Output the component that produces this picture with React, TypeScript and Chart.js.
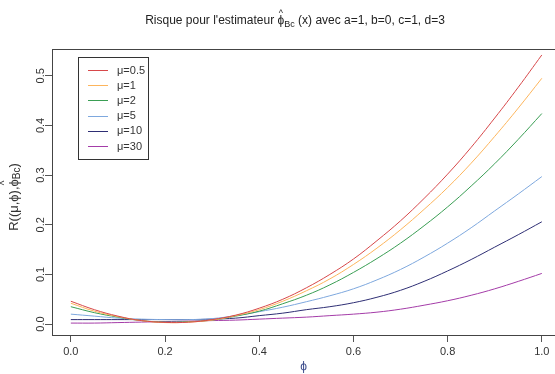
import React, { useEffect, useRef } from 'react';
import { Chart, registerables } from 'chart.js';

Chart.register(...registerables);

// phi grid (x values)
const phi = [0, 0.05, 0.1, 0.15, 0.2, 0.25, 0.3, 0.35, 0.4, 0.45, 0.5, 0.55, 0.6, 0.65, 0.7, 0.75, 0.8, 0.85, 0.9, 0.95, 1.0];

// Risk curves, one per mu
const riskMu05 = [0.046, 0.029, 0.016, 0.007, 0.0034, 0.0038, 0.009, 0.018, 0.032, 0.050, 0.073, 0.100, 0.131, 0.168, 0.208, 0.253, 0.302, 0.356, 0.415, 0.477, 0.542];
const riskMu1 = [0.042, 0.026, 0.015, 0.007, 0.003, 0.004, 0.008, 0.017, 0.029, 0.046, 0.067, 0.091, 0.120, 0.153, 0.190, 0.231, 0.275, 0.324, 0.378, 0.435, 0.495];
const riskMu2 = [0.035, 0.023, 0.014, 0.007, 0.004, 0.005, 0.008, 0.016, 0.026, 0.041, 0.058, 0.079, 0.104, 0.132, 0.163, 0.198, 0.236, 0.278, 0.323, 0.372, 0.424];
const riskMu5 = [0.020, 0.016, 0.012, 0.010, 0.009, 0.009, 0.011, 0.017, 0.025, 0.034, 0.045, 0.057, 0.071, 0.089, 0.110, 0.135, 0.163, 0.194, 0.228, 0.262, 0.297];
const riskMu10 = [0.009, 0.009, 0.009, 0.009, 0.009, 0.009, 0.010, 0.012, 0.017, 0.022, 0.029, 0.035, 0.043, 0.054, 0.068, 0.086, 0.107, 0.130, 0.155, 0.180, 0.206];
const riskMu30 = [0.002, 0.002, 0.003, 0.004, 0.005, 0.006, 0.007, 0.008, 0.010, 0.012, 0.014, 0.017, 0.020, 0.024, 0.030, 0.038, 0.047, 0.058, 0.071, 0.086, 0.102];

const seriesLabels = ['μ=0.5', 'μ=1', 'μ=2', 'μ=5', 'μ=10', 'μ=30'];
const seriesValues = [riskMu05, riskMu1, riskMu2, riskMu5, riskMu10, riskMu30];
const seriesColors = ['#D7484A', '#FDB55C', '#3A9E54', '#7EA8DE', '#2E2E74', '#A43CA8'];

const xTicks = [0, 0.2, 0.4, 0.6, 0.8, 1.0];
const yTicks = [0, 0.1, 0.2, 0.3, 0.4, 0.5];

const FONT = '"Liberation Sans", Arial, sans-serif';

const decorPlugin = {
  id: 'decor',
  afterDraw(chart: any) {
    const ctx = chart.ctx;
    const area = chart.chartArea;
    ctx.save();
    // top border of box
    ctx.strokeStyle = '#444';
    ctx.lineWidth = 1;
    ctx.beginPath();
    ctx.moveTo(area.left, Math.round(area.top) + 0.5);
    ctx.lineTo(area.right, Math.round(area.top) + 0.5);
    ctx.stroke();

    // Title with hat and subscript
    ctx.fillStyle = '#222';
    ctx.textBaseline = 'alphabetic';
    const big = '12px ' + FONT;
    const small = '9px ' + FONT;
    const p1 = "Risque pour l'estimateur ";
    const p2 = 'ϕ';
    const p3 = 'Bc';
    const p4 = ' (x) avec a=1, b=0, c=1, d=3';
    ctx.font = big;
    const w1 = ctx.measureText(p1).width;
    const w2 = ctx.measureText(p2).width;
    const w4 = ctx.measureText(p4).width;
    ctx.font = small;
    const w3 = ctx.measureText(p3).width;
    const total = w1 + w2 + w3 + w4;
    let x = 295 - total / 2;
    const by = 24;
    ctx.font = big;
    ctx.textAlign = 'left';
    ctx.fillText(p1, x, by);
    x += w1;
    ctx.fillText(p2, x, by);
    ctx.font = small;
    ctx.textAlign = 'center';
    ctx.fillText('^', x + w2 / 2, by - 8);
    ctx.textAlign = 'left';
    x += w2;
    ctx.fillText(p3, x, by + 3);
    x += w3;
    ctx.font = big;
    ctx.fillText(p4, x, by);

    // Y axis title, rotated
    ctx.save();
    ctx.translate(14, 197);
    ctx.rotate(-Math.PI / 2);
    const yp1 = 'R((μ,ϕ),';
    const yp2 = 'ϕ';
    const yp3 = 'Bc';
    const yp4 = ')';
    const yb = '13px ' + FONT;
    const ys = '10px ' + FONT;
    ctx.font = yb;
    const a1 = ctx.measureText(yp1).width;
    const a2 = ctx.measureText(yp2).width;
    const a4 = ctx.measureText(yp4).width;
    ctx.font = ys;
    const a3 = ctx.measureText(yp3).width;
    let yx = -(a1 + a2 + a3 + a4) / 2;
    ctx.fillStyle = '#333';
    ctx.textAlign = 'left';
    ctx.textBaseline = 'middle';
    ctx.font = yb;
    ctx.fillText(yp1, yx, 0);
    yx += a1;
    ctx.fillText(yp2, yx, 0);
    ctx.font = ys;
    ctx.textAlign = 'center';
    ctx.fillText('^', yx + a2 / 2, -9);
    ctx.textAlign = 'left';
    yx += a2;
    ctx.fillText(yp3, yx, 3);
    yx += a3;
    ctx.font = yb;
    ctx.fillText(yp4, yx, 0);
    ctx.restore();

    // Legend box
    const lx = 78.5, ly = 57.5, lw = 70, lh = 102;
    ctx.strokeStyle = '#333';
    ctx.lineWidth = 1;
    ctx.strokeRect(lx, ly, lw, lh);
    ctx.font = '11px ' + FONT;
    ctx.textAlign = 'left';
    ctx.textBaseline = 'middle';
    chart.data.datasets.forEach((ds: any, i: number) => {
      const yy = 70 + i * 15.2;
      ctx.strokeStyle = ds.borderColor;
      ctx.beginPath();
      ctx.moveTo(88, Math.round(yy) + 0.5);
      ctx.lineTo(108, Math.round(yy) + 0.5);
      ctx.stroke();
      ctx.fillStyle = '#333';
      ctx.fillText(ds.label, 117, yy + 0.5);
    });
    ctx.restore();
  },
};

export default function App() {
  const ref = useRef<HTMLCanvasElement | null>(null);
  useEffect(() => {
    if (!ref.current) return;
    const datasets = seriesLabels.map((label, i) => ({
      label,
      data: phi.map((p, j) => ({ x: p, y: seriesValues[i][j] })),
      borderColor: seriesColors[i],
      backgroundColor: seriesColors[i],
      borderWidth: 1,
      pointRadius: 0,
      tension: 0.4,
      fill: false,
    }));
    const chart = new Chart(ref.current, {
      type: 'line',
      data: { datasets },
      options: {
        responsive: false,
        animation: false,
        layout: { padding: { top: 49, right: 0, left: 0, bottom: 0 } },
        plugins: {
          legend: { display: false },
          title: { display: false },
          tooltip: { enabled: false },
        },
        scales: {
          x: {
            type: 'linear',
            min: -0.04,
            max: 1.028,
            afterBuildTicks: (s: any) => {
              s.ticks = xTicks.map((v) => ({ value: v }));
            },
            afterFit: (s: any) => {
              s.height = 39;
            },
            ticks: {
              callback: (v: any) => Number(v).toFixed(1),
              font: { size: 11, family: FONT },
              color: '#333',
              padding: 3,
              maxRotation: 0,
              autoSkip: false,
            },
            grid: { drawOnChartArea: false, drawTicks: true, tickLength: 7, color: '#555' },
            border: { display: true, color: '#444' },
            title: {
              display: true,
              text: 'ϕ',
              color: '#3A4A8A',
              font: { size: 12, family: FONT },
              padding: { top: 0, bottom: 0 },
            },
          },
          y: {
            type: 'linear',
            min: -0.022,
            max: 0.554,
            afterBuildTicks: (s: any) => {
              s.ticks = yTicks.map((v) => ({ value: v }));
            },
            afterFit: (s: any) => {
              s.width = 52;
            },
            ticks: {
              callback: (v: any) => Number(v).toFixed(1),
              font: { size: 11, family: FONT },
              color: '#333',
              padding: -4,
              minRotation: 90,
              maxRotation: 90,
              crossAlign: 'center',
              autoSkip: false,
            },
            grid: { drawOnChartArea: false, drawTicks: true, tickLength: 7, color: '#555' },
            border: { display: true, color: '#444' },
          },
        },
      },
      plugins: [decorPlugin],
    } as any);
    return () => chart.destroy();
  }, []);
  return (
    <div style={{ position: 'fixed', left: 0, top: 0, width: 555, height: 374, background: '#fff' }}>
      <canvas ref={ref} width={555} height={374} style={{ width: 555, height: 374, display: 'block' }} />
    </div>
  );
}
